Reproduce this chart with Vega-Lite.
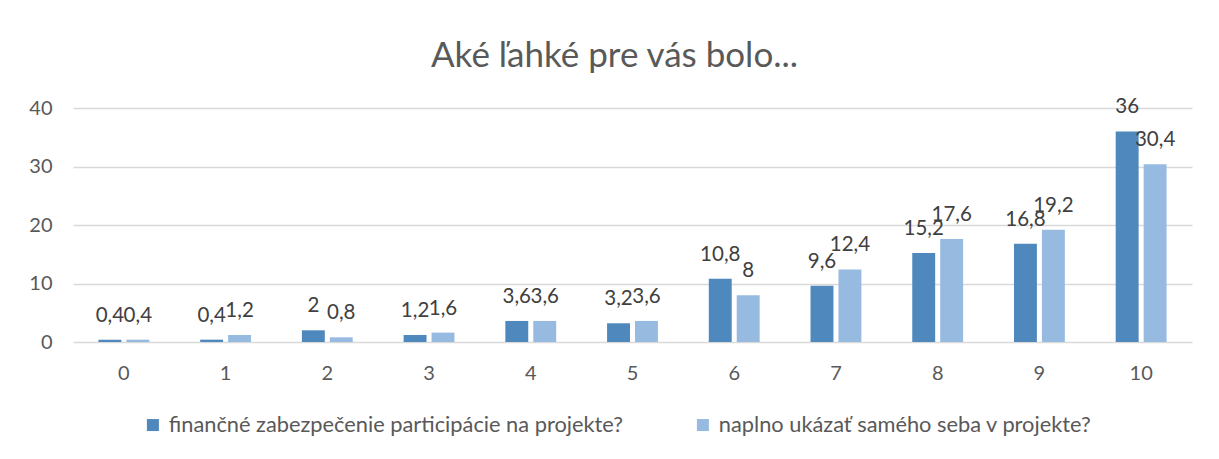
{
  "$schema": "https://vega.github.io/schema/vega-lite/v6.json",
  "width": 1119,
  "height": 234,
  "autosize": "none",
  "padding": {"left": 73, "top": 108, "right": 27, "bottom": 117},
  "background": "white",
  "title": {
    "text": "Aké ľahké pre vás bolo...",
    "fontSize": 35,
    "font": "Lato",
    "fontWeight": "normal",
    "color": "#595959",
    "anchor": "middle",
    "offset": 23,
    "dx": -18
  },
  "data": {
    "values": [
      {"k": "0", "s": "finančné zabezpečenie participácie na projekte?", "v": 0.4, "t": "0,4"},
      {"k": "0", "s": "naplno ukázať samého seba v projekte?", "v": 0.4, "t": "0,4"},
      {"k": "1", "s": "finančné zabezpečenie participácie na projekte?", "v": 0.4, "t": "0,4"},
      {"k": "1", "s": "naplno ukázať samého seba v projekte?", "v": 1.2, "t": "1,2"},
      {"k": "2", "s": "finančné zabezpečenie participácie na projekte?", "v": 2, "t": "2"},
      {"k": "2", "s": "naplno ukázať samého seba v projekte?", "v": 0.8, "t": "0,8"},
      {"k": "3", "s": "finančné zabezpečenie participácie na projekte?", "v": 1.2, "t": "1,2"},
      {"k": "3", "s": "naplno ukázať samého seba v projekte?", "v": 1.6, "t": "1,6"},
      {"k": "4", "s": "finančné zabezpečenie participácie na projekte?", "v": 3.6, "t": "3,6"},
      {"k": "4", "s": "naplno ukázať samého seba v projekte?", "v": 3.6, "t": "3,6"},
      {"k": "5", "s": "finančné zabezpečenie participácie na projekte?", "v": 3.2, "t": "3,2"},
      {"k": "5", "s": "naplno ukázať samého seba v projekte?", "v": 3.6, "t": "3,6"},
      {"k": "6", "s": "finančné zabezpečenie participácie na projekte?", "v": 10.8, "t": "10,8"},
      {"k": "6", "s": "naplno ukázať samého seba v projekte?", "v": 8, "t": "8"},
      {"k": "7", "s": "finančné zabezpečenie participácie na projekte?", "v": 9.6, "t": "9,6"},
      {"k": "7", "s": "naplno ukázať samého seba v projekte?", "v": 12.4, "t": "12,4"},
      {"k": "8", "s": "finančné zabezpečenie participácie na projekte?", "v": 15.2, "t": "15,2"},
      {"k": "8", "s": "naplno ukázať samého seba v projekte?", "v": 17.6, "t": "17,6"},
      {"k": "9", "s": "finančné zabezpečenie participácie na projekte?", "v": 16.8, "t": "16,8"},
      {"k": "9", "s": "naplno ukázať samého seba v projekte?", "v": 19.2, "t": "19,2"},
      {"k": "10", "s": "finančné zabezpečenie participácie na projekte?", "v": 36, "t": "36"},
      {"k": "10", "s": "naplno ukázať samého seba v projekte?", "v": 30.4, "t": "30,4"}
    ]
  },
  "encoding": {
    "x": {
      "field": "k",
      "type": "nominal",
      "sort": null,
      "scale": {"paddingInner": 0.5, "paddingOuter": 0.25},
      "axis": {
        "title": null,
        "labelAngle": 0,
        "labelFont": "Lato",
        "labelFontSize": 20,
        "labelColor": "#595959",
        "labelPadding": 21,
        "domain": false,
        "ticks": false
      }
    },
    "xOffset": {
      "field": "s",
      "type": "nominal",
      "sort": ["finančné zabezpečenie participácie na projekte?", "naplno ukázať samého seba v projekte?"],
      "scale": {"paddingInner": 0.18, "paddingOuter": 0}
    },
    "y": {
      "field": "v",
      "type": "quantitative",
      "scale": {"domain": [0, 40]},
      "axis": {
        "title": null,
        "values": [0, 10, 20, 30, 40],
        "labelFont": "Lato",
        "labelFontSize": 20,
        "labelColor": "#595959",
        "labelPadding": 21,
        "domain": false,
        "ticks": false,
        "gridColor": "#d9d9d9",
        "gridWidth": 1.5
      }
    }
  },
  "layer": [
    {
      "mark": {"type": "bar"},
      "encoding": {
        "color": {
          "field": "s",
          "type": "nominal",
          "sort": ["finančné zabezpečenie participácie na projekte?", "naplno ukázať samého seba v projekte?"],
          "scale": {"range": ["#4F88BC", "#97BAE0"]},
          "legend": {
            "title": null,
            "orient": "none",
            "legendX": 69,
            "legendY": 306,
            "direction": "horizontal",
            "symbolType": "square",
            "symbolSize": 144,
            "symbolStrokeWidth": 0,
            "labelFont": "Lato",
            "labelFontSize": 21.8,
            "labelColor": "#595959",
            "labelLimit": 700,
            "labelOffset": 5,
            "columnPadding": 68
          }
        }
      }
    },
    {
      "mark": {"type": "text", "baseline": "alphabetic", "dy": -18, "font": "Lato", "fontSize": 20.5, "color": "#404040"},
      "encoding": {"text": {"field": "t"}}
    }
  ],
  "config": {"view": {"stroke": null}}
}
